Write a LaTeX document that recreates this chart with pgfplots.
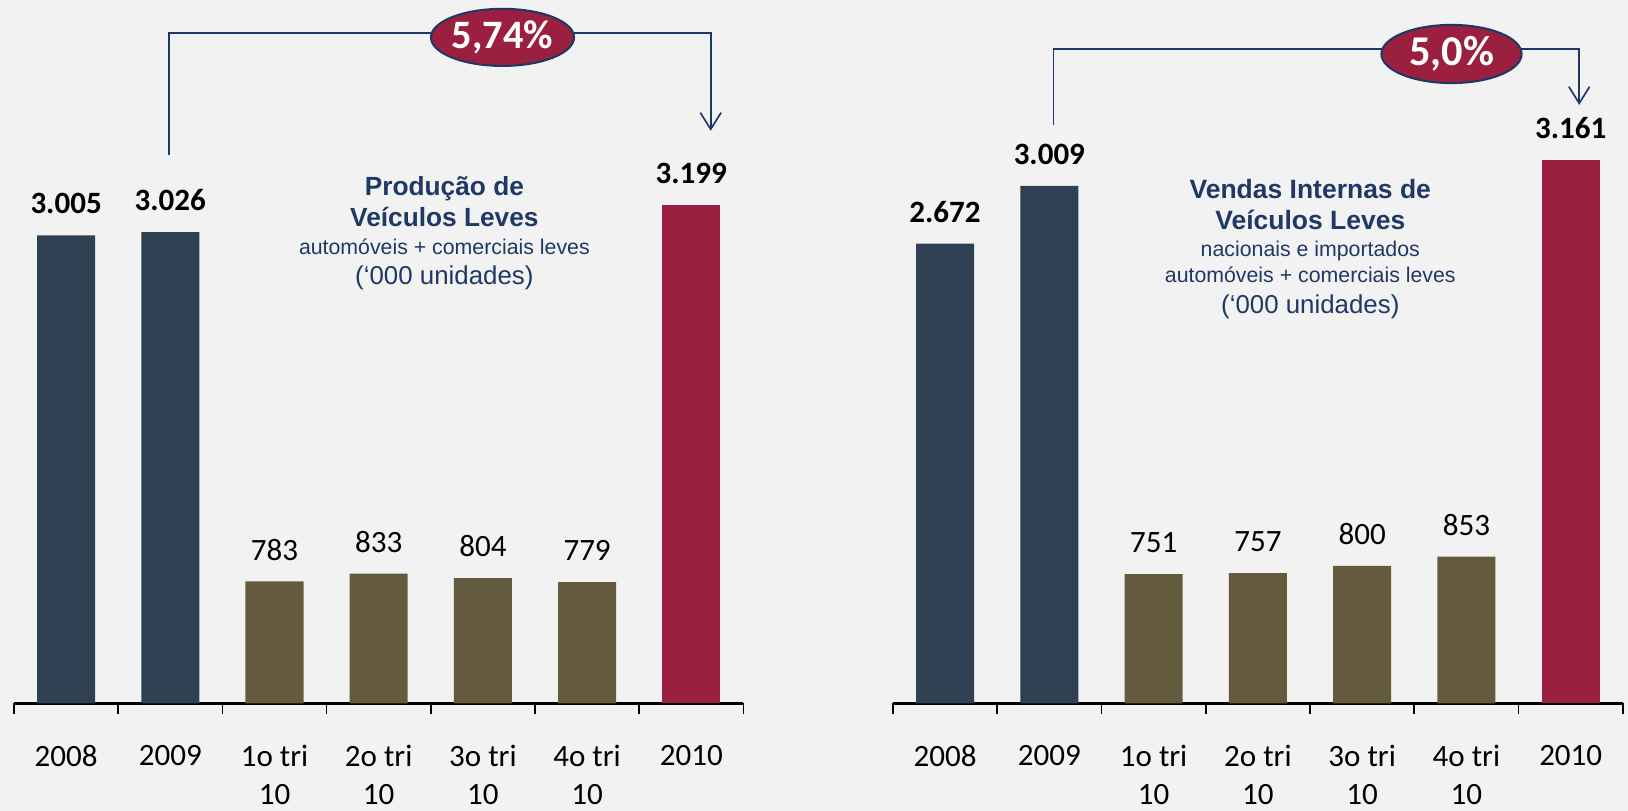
\documentclass[border=0pt]{standalone}
\usepackage{fontspec}
\setmainfont{Carlito}
\newfontfamily\arialf{Liberation Sans}
\usepackage{pgfplots}
\pgfplotsset{compat=1.18}
\usetikzlibrary{arrows.meta,shapes.geometric}

\definecolor{bgc}{HTML}{F2F2F2}
\definecolor{navybar}{HTML}{2E4052}
\definecolor{olivebar}{HTML}{645A3D}
\definecolor{redbar}{HTML}{9B2040}
\definecolor{titc}{HTML}{1F3864}

\pgfplotsset{
  painel/.style={
    scale only axis, anchor=south west,
    xmin=-0.5, xmax=6.5, ymin=0,
    axis x line*=bottom, axis y line=none,
    xtick={0,...,6},
    xticklabels={2008,2009,1o tri\\10,2o tri\\10,3o tri\\10,4o tri\\10,2010},
    major tick length=0pt,
    minor xtick={-0.5,0.5,...,6.5},
    minor tick length=5bp,
    tick align=outside,
    minor tick style={black, line width=0.8bp},
    axis line style={black, line width=1.3bp},
    xticklabel style={font=\fontsize{15}{18.3}\selectfont, align=center,
      anchor=north, inner sep=0pt, yshift=-20bp},
    ybar, bar width=0.557, bar shift=0pt,
    clip=false,
    nodes near coords,
    every node near coord/.append style={inner sep=0pt, yshift=10bp,
      anchor=south, text=black},
    /pgf/number format/.cd, 1000 sep={.}, assume math mode=true,
  },
  anual/.style={every node near coord/.append style={font=\bfseries\fontsize{15}{18}\selectfont}},
  trim/.style={every node near coord/.append style={font=\fontsize{15}{18}\selectfont}},
}

\begin{document}
\begin{tikzpicture}[x=0.5bp,y=0.5bp]
\fill[bgc] (0,0) rectangle (1568,781);

% Producao
\begin{axis}[painel, at={(6.75bp,51.75bp)}, width=351.25bp, height=338.75bp, ymax=4516]
\addplot[anual, fill=navybar, draw=none] coordinates {(0,3005) (1,3026)};
\addplot[trim, fill=olivebar, draw=none] coordinates {(2,783) (3,833) (4,804) (5,779)};
\addplot[anual, fill=redbar, draw=none] coordinates {(6,3199)};
\end{axis}

% Vendas internas
\begin{axis}[painel, at={(430bp,51.75bp)}, width=351.5bp, height=338.75bp, ymax=4089]
\addplot[anual, fill=navybar, draw=none] coordinates {(0,2672) (1,3009)};
\addplot[trim, fill=olivebar, draw=none] coordinates {(2,751) (3,757) (4,800) (5,853)};
\addplot[anual, fill=redbar, draw=none] coordinates {(6,3161)};
\end{axis}

% titulos
\begin{scope}[text=titc, anchor=base]
\node[font=\arialf\bfseries\fontsize{12.7}{15}\selectfont, anchor=base] at (428,593) {Produção de};
\node[font=\arialf\bfseries\fontsize{12.7}{15}\selectfont, anchor=base] at (428,562.5) {Veículos Leves};
\node[font=\arialf\fontsize{10.3}{12}\selectfont, anchor=base] at (428,536) {automóveis + comerciais leves};
\node[font=\arialf\fontsize{12.5}{15}\selectfont, anchor=base] at (428,506.5) {(‘000 unidades)};

\node[font=\arialf\bfseries\fontsize{12.8}{15}\selectfont, anchor=base] at (1262,590) {Vendas Internas de};
\node[font=\arialf\bfseries\fontsize{12.8}{15}\selectfont, anchor=base] at (1262,559.5) {Veículos Leves};
\node[font=\arialf\fontsize{10.3}{12}\selectfont, anchor=base] at (1262,534) {nacionais e importados};
\node[font=\arialf\fontsize{10.3}{12}\selectfont, anchor=base] at (1262,509) {automóveis + comerciais leves};
\node[font=\arialf\fontsize{12.5}{15}\selectfont, anchor=base] at (1262,479) {(‘000 unidades)};
\end{scope}

% chaves de variacao
\draw[titc, line width=0.8bp, -{Straight Barb[length=8bp,width=10bp]}]
  (162.5,632) -- (162.5,749) -- (684.5,749) -- (684.5,655);
\node[ellipse, fill=redbar, draw=titc, line width=1bp, minimum width=67bp,
  minimum height=27.5bp, inner sep=0pt, text=white,
  font=\bfseries\fontsize{19.5}{22}\selectfont] at (484,745) {5,74\%};

\draw[titc, line width=0.8bp, -{Straight Barb[length=8bp,width=10bp]}]
  (1014.5,661) -- (1014.5,733.5) -- (1521,733.5) -- (1521,680);
\node[ellipse, fill=redbar, draw=titc, line width=1bp, minimum width=67.5bp,
  minimum height=28bp, inner sep=0pt, text=white,
  font=\bfseries\fontsize{20.5}{23}\selectfont] at (1398,729) {5,0\%};
\end{tikzpicture}
\end{document}
